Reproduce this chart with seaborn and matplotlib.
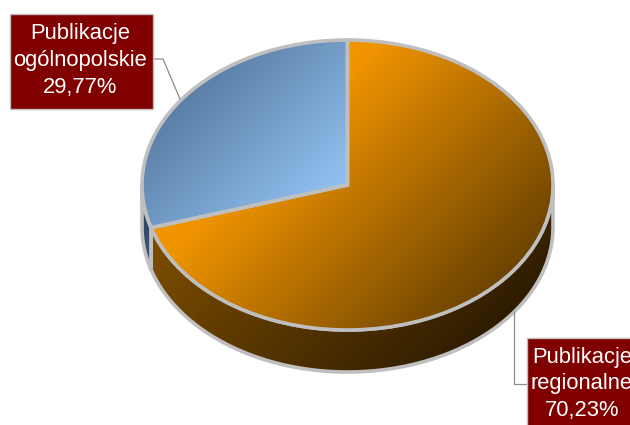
import numpy as np
import matplotlib
matplotlib.use("Agg")
import matplotlib.pyplot as plt
from matplotlib.patches import Polygon, Rectangle
import seaborn as sns

# Share of publications by reach
categories = ["Publikacje\nogólnopolskie", "Publikacje\nregionalne"]
shares = [29.77, 70.23]

W, H = 630, 425
CX, CY = 347.5, 185.0   # pie centre in pixels
RX, RY = 205.5, 145.0   # pie radii in pixels
DEPTH = 42.0            # height of the extruded rim in pixels
EDGE = "#bfbfbf"
BOX = "#800000"
EDGE_WIDTH = 2.6

sns.set_theme(style="white")
plt.rcParams["font.family"] = ["Liberation Sans", "DejaVu Sans"]

fig = plt.figure(figsize=(W / 100, H / 100), dpi=100, facecolor="white")
ax = fig.add_axes([0, 0, 1, 1])

wedges, _ = ax.pie(shares, startangle=90, radius=1, center=(0, 0), normalize=True,
                   wedgeprops=dict(facecolor="none", edgecolor=EDGE, linewidth=EDGE_WIDTH, zorder=6))

# Stretch the data space so that the round pie reads as a tilted ellipse
xlim = (-CX / RX, (W - CX) / RX)
ylim = (-(H - CY) / RY, CY / RY)
ax.set_aspect("auto")
ax.set_xlim(*xlim)
ax.set_ylim(*ylim)
ax.axis("off")

# Diagonal shading coordinate shared by all faces
px = np.arange(0, W + 1, 2.0)
py = np.arange(0, H + 1, 2.0)
gx, gy = np.meshgrid(px, py)
diag = gx + gy
extent = (xlim[0], xlim[1], ylim[0], ylim[1])


def shaded(clip, colors, lo, hi, z):
    cmap = sns.blend_palette(colors, as_cmap=True)
    im = ax.imshow(np.clip((diag - lo) / (hi - lo), 0, 1), cmap=cmap, vmin=0, vmax=1,
                   extent=extent, origin="upper", aspect="auto", zorder=z,
                   interpolation="bilinear")
    im.set_clip_path(clip)
    return im


def rim(theta_a, theta_b):
    th = np.radians(np.linspace(theta_a, theta_b, 200))
    top = np.column_stack([np.cos(th), np.sin(th)])
    low = top - [0, DEPTH / RY]
    return np.vstack([top, low[::-1]])


blue_wedge, orange_wedge = wedges

# Visible rim of each slice: the lower half of the ellipse only
blue_rim = Polygon(rim(180, blue_wedge.theta2), closed=True, facecolor="none",
                   edgecolor=EDGE, linewidth=EDGE_WIDTH, zorder=4, transform=ax.transData)
orange_rim = Polygon(rim(orange_wedge.theta1, 360), closed=True, facecolor="none",
                     edgecolor=EDGE, linewidth=EDGE_WIDTH, zorder=4, transform=ax.transData)
ax.add_patch(blue_rim)
ax.add_patch(orange_rim)
shaded(blue_rim, ["#2c4159", "#3f5c7c"], 350, 420, 3)
shaded(orange_rim, ["#7c4d00", "#281800"], 400, 860, 3)

# Top faces
shaded(blue_wedge, ["#4a6a8f", "#93c3f3"], 200, 533, 5)
shaded(orange_wedge, ["#f09400", "#503200"], 420, 860, 5)
ax.set_xlim(*xlim)
ax.set_ylim(*ylim)

# Callouts live in a pixel-based overlay
ov = fig.add_axes([0, 0, 1, 1], facecolor="none")
ov.set_xlim(0, W)
ov.set_ylim(H, 0)
ov.axis("off")

callouts = [
    dict(box=(9.5, 13.5, 143, 95), text=(80, 60.5), leader=[(152, 59), (163, 59), (180, 99)]),
    dict(box=(526.5, 337.5, 120, 100), text=(582, 384), leader=[(526, 384), (514, 384), (514, 311)]),
]
for name, value, c in zip(categories, shares, callouts):
    lx, ly = zip(*c["leader"])
    ov.plot(lx, ly, color="#8c8c8c", linewidth=0.9, zorder=7, solid_joinstyle="miter")
    x, y, w, h = c["box"]
    ov.add_patch(Rectangle((x, y), w, h, facecolor=BOX, edgecolor=EDGE, linewidth=1.0, zorder=8))
    label = f"{name}\n{value:.2f}%".replace(".", ",")
    ov.text(*c["text"], label, color="white", fontsize=15.8, ha="center", va="center",
            linespacing=1.37, zorder=9)

fig.savefig("out.png", dpi=100, facecolor="white")
